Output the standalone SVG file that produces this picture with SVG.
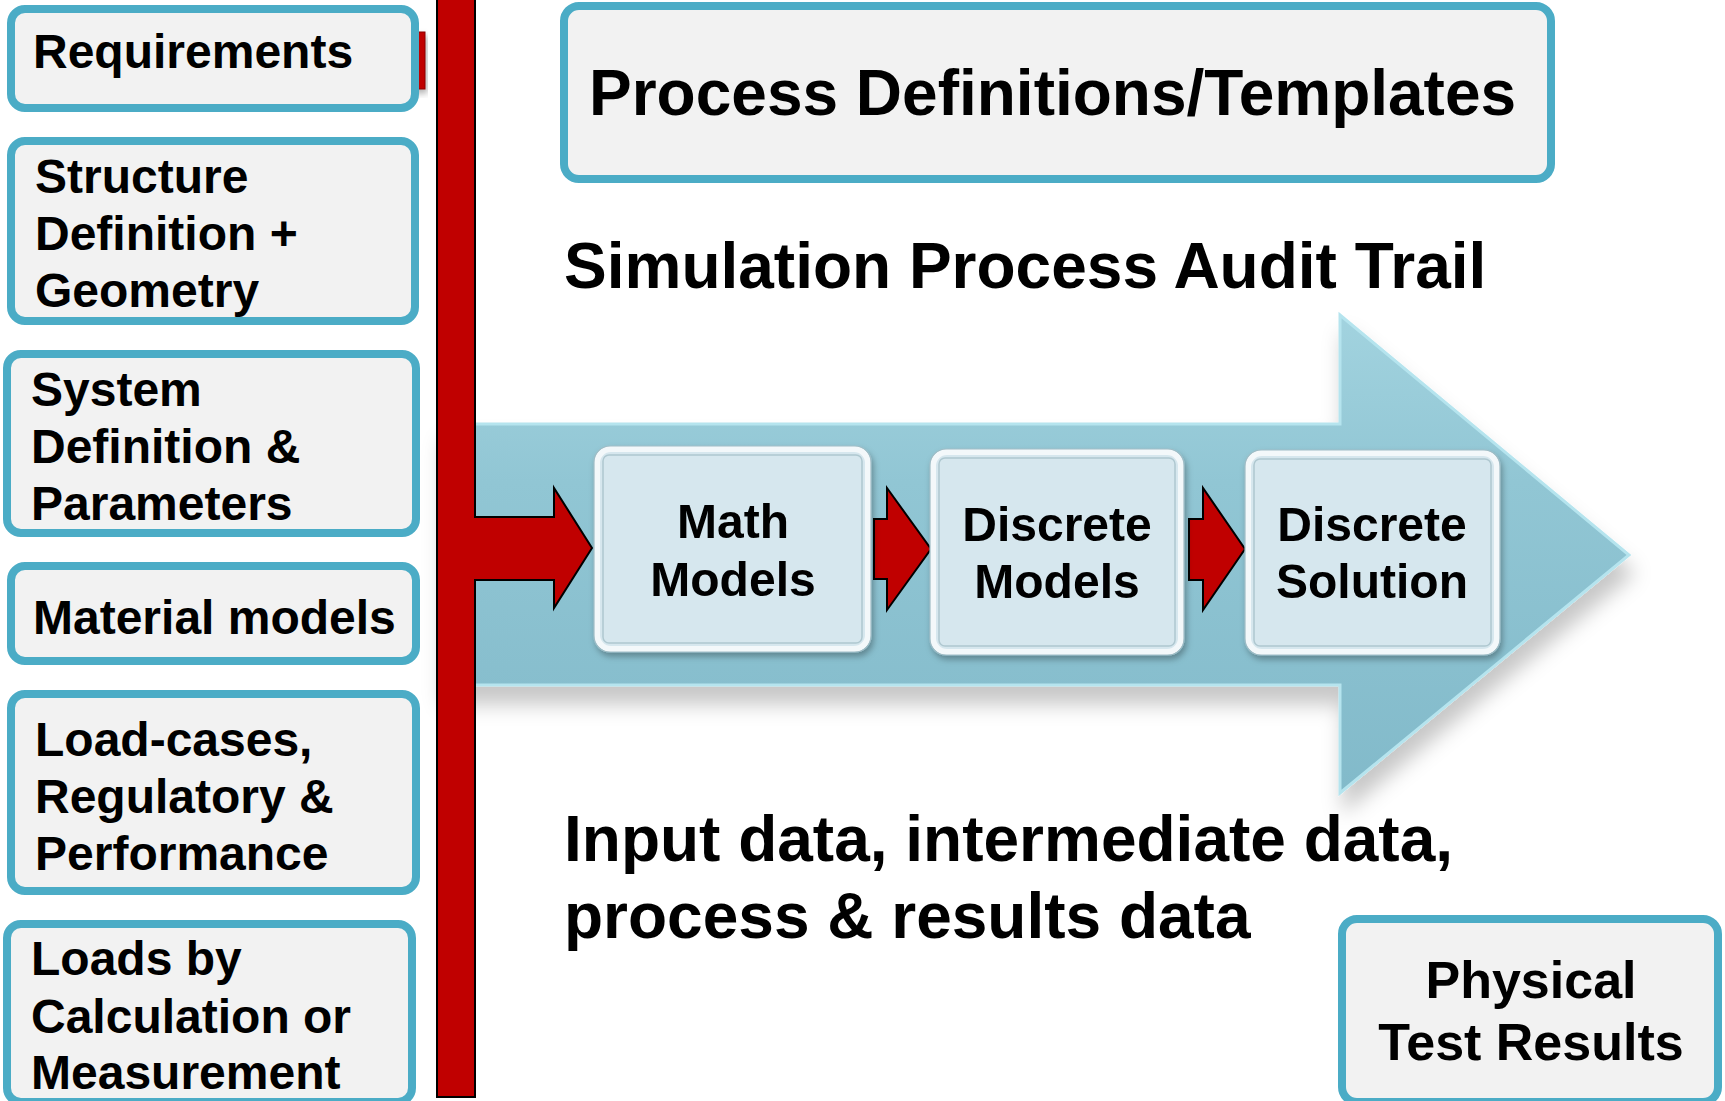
<svg xmlns="http://www.w3.org/2000/svg" width="1725" height="1101" viewBox="0 0 1725 1101">
<style>
  .box { fill: #F2F2F2; stroke: #4BACC6; stroke-width: 8; }
  .lbl { font-family: "Liberation Sans", Arial, sans-serif; font-weight: bold; fill: #000; }
  .s48 { font-size: 48px; }
  .s64 { font-size: 64px; }
  .mid { text-anchor: middle; }
  .red { fill: #C00000; stroke: #000; stroke-width: 2; stroke-linejoin: miter; }
  .step { fill: #D6E7EE; stroke: #F3F8FA; stroke-width: 6; }
  .stepout { fill: none; stroke: #9FBCC5; stroke-width: 1.2; }
  .stepin { fill: none; stroke: #AFC8D0; stroke-width: 1.5; }
</style>
<defs>
  <linearGradient id="arrowGrad" x1="0" y1="0" x2="0" y2="1">
    <stop offset="0" stop-color="#A2D3DF"/>
    <stop offset="0.35" stop-color="#91C6D4"/>
    <stop offset="1" stop-color="#82BACA"/>
  </linearGradient>
  <filter id="shadow" x="-10%" y="-10%" width="130%" height="140%">
    <feDropShadow dx="4" dy="18" stdDeviation="10" flood-color="#000" flood-opacity="0.22"/>
  </filter>
  <filter id="boxShadow" x="-10%" y="-10%" width="125%" height="125%">
    <feDropShadow dx="2" dy="4" stdDeviation="3" flood-color="#000" flood-opacity="0.3"/>
  </filter>
</defs>

<!-- big process arrow (background) -->
<g id="audit-arrow">
  <polygon points="440,424 1340,424 1340,315 1629,555 1340,793 1340,685 440,685" fill="url(#arrowGrad)" stroke="#B5E4EE" stroke-width="3" stroke-linejoin="miter" filter="url(#shadow)"/>
</g>

<!-- connectors -->
<g id="connectors">
  <rect x="405" y="32" width="20" height="57" fill="#C00000" stroke="#8a0000" stroke-width="1" filter="url(#boxShadow)"/>
  <path class="red" d="M437,-4 L475,-4 L475,517 L554,517 L554,488 L592,548 L554,608 L554,580 L475,580 L475,1097 L437,1097 Z"/>
  <path class="red" d="M874,519 L887,519 L887,488 L931,549 L887,610 L887,579 L874,579 Z"/>
  <path class="red" d="M1189,519 L1203,519 L1203,488 L1245,549 L1203,610 L1203,580 L1189,580 Z"/>
</g>

<!-- left input nodes -->
<g id="requirements">
  <rect class="box" x="11" y="9" width="404" height="99" rx="14"/>
  <text class="lbl s48" x="33" y="68">Requirements</text>
</g>
<g id="structure">
  <rect class="box" x="11" y="141" width="404" height="180" rx="14"/>
  <text class="lbl s48" x="35" y="193">Structure</text>
  <text class="lbl s48" x="35" y="250">Definition +</text>
  <text class="lbl s48" x="35" y="307">Geometry</text>
</g>
<g id="system">
  <rect class="box" x="7" y="354" width="409" height="179" rx="14"/>
  <text class="lbl s48" x="31" y="406">System</text>
  <text class="lbl s48" x="31" y="463">Definition &amp;</text>
  <text class="lbl s48" x="31" y="520">Parameters</text>
</g>
<g id="material">
  <rect class="box" x="11" y="566" width="405" height="95" rx="14"/>
  <text class="lbl s48" x="33" y="634">Material models</text>
</g>
<g id="loadcases">
  <rect class="box" x="11" y="694" width="405" height="197" rx="14"/>
  <text class="lbl s48" x="35" y="756">Load-cases,</text>
  <text class="lbl s48" x="35" y="813">Regulatory &amp;</text>
  <text class="lbl s48" x="35" y="870">Performance</text>
</g>
<g id="loads">
  <rect class="box" x="7" y="924" width="405" height="178" rx="14"/>
  <text class="lbl s48" x="31" y="975">Loads by</text>
  <text class="lbl s48" x="31" y="1033">Calculation or</text>
  <text class="lbl s48" x="31" y="1089">Measurement</text>
</g>

<!-- top box -->
<g id="process-definitions">
  <rect class="box" x="564" y="6" width="987" height="173" rx="15"/>
  <text class="lbl s64" x="589" y="115">Process Definitions/Templates</text>
</g>

<!-- titles -->
<g id="audit-title">
  <text class="lbl s64" x="564" y="288">Simulation Process Audit Trail</text>
</g>
<g id="data-caption">
  <text class="lbl s64" x="564" y="861">Input data, intermediate data,</text>
  <text class="lbl s64" x="564" y="938">process &amp; results data</text>
</g>

<!-- process steps -->
<g id="math-models" filter="url(#boxShadow)">
  <rect class="step" x="597" y="449" width="271" height="200" rx="14"/>
  <rect class="stepout" x="594" y="446" width="277" height="206" rx="16"/>
  <rect class="stepin" x="603" y="455" width="259" height="188" rx="6"/>
  <text class="lbl s48 mid" x="733" y="538">Math</text>
  <text class="lbl s48 mid" x="733" y="596">Models</text>
</g>
<g id="discrete-models" filter="url(#boxShadow)">
  <rect class="step" x="933" y="452" width="248" height="200" rx="14"/>
  <rect class="stepout" x="930" y="449" width="254" height="206" rx="16"/>
  <rect class="stepin" x="939" y="458" width="236" height="188" rx="6"/>
  <text class="lbl s48 mid" x="1057" y="541">Discrete</text>
  <text class="lbl s48 mid" x="1057" y="598">Models</text>
</g>
<g id="discrete-solution" filter="url(#boxShadow)">
  <rect class="step" x="1248" y="453" width="249" height="199" rx="14"/>
  <rect class="stepout" x="1245" y="450" width="255" height="205" rx="16"/>
  <rect class="stepin" x="1254" y="459" width="237" height="187" rx="6"/>
  <text class="lbl s48 mid" x="1372" y="541">Discrete</text>
  <text class="lbl s48 mid" x="1372" y="598">Solution</text>
</g>

<!-- physical test results -->
<g id="physical-test">
  <rect class="box" x="1342" y="919" width="376" height="183" rx="15"/>
  <text class="lbl mid" font-size="52" x="1531" y="998">Physical</text>
  <text class="lbl mid" font-size="52" x="1531" y="1060">Test Results</text>
</g>
</svg>
